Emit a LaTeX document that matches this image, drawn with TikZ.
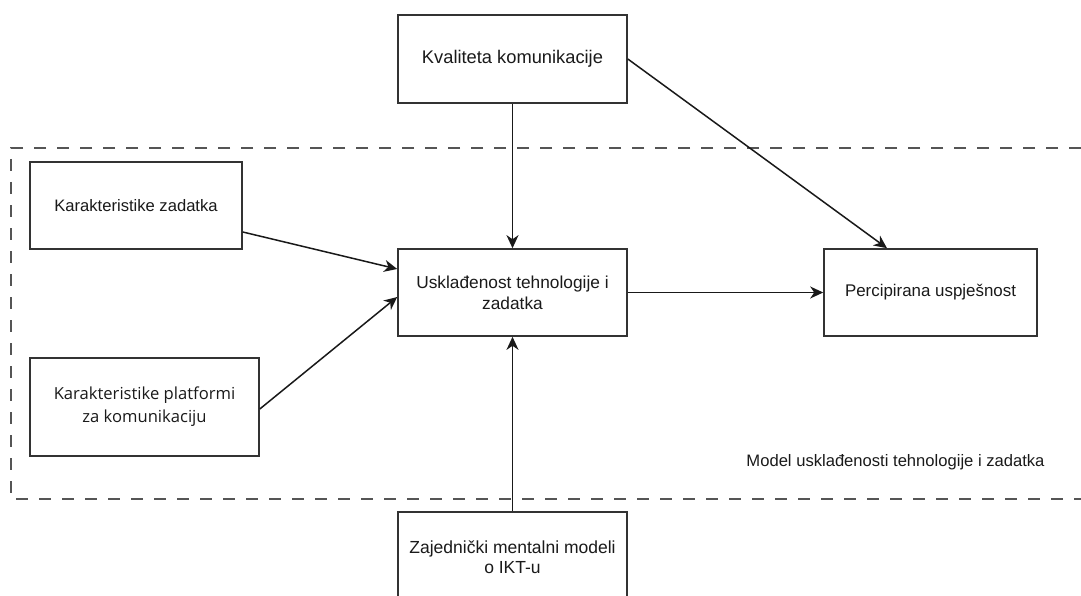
\documentclass[tikz,border=0pt]{standalone}
\usepackage{fontspec}
\setmainfont{Liberation Sans}
\newfontfamily\platfont{Open Sans}
\usetikzlibrary{arrows.meta}
\definecolor{boxline}{HTML}{333333}
\definecolor{txt}{HTML}{1A1A1A}
\definecolor{dashc}{HTML}{555555}
\begin{document}
\begin{tikzpicture}[x=1pt,y=-1pt,
  box/.style={draw=boxline,line width=1.6pt,fill=white,inner sep=0pt,align=center,
    text=txt,font=\fontsize{17.3}{21}\selectfont},
  conn/.style={draw=black!90,line width=1.5pt,-{Stealth[length=13pt,width=12pt,inset=4pt]}},
  frame/.style={draw=dashc,line width=1.8pt,dash pattern=on 12pt off 11pt}
]
\useasboundingbox (0,0) rectangle (1081,596);
\clip (0,0) rectangle (1081,596);
\draw[frame] (1081,148) -- (11,148) -- (11,499) -- (1081,499);
\node[box,minimum width=229pt,minimum height=88pt,font=\fontsize{18.3}{21}\selectfont] (kv) at (512.5,59) {Kvaliteta komunikacije};
\node[box,minimum width=212pt,minimum height=87pt,font=\fontsize{16.6}{21}\selectfont] (kz) at (136,205.5) {Karakteristike zadatka};
\node[box,minimum width=229pt,minimum height=87pt] (us) at (512.5,292.5) {Usklađenost tehnologije i\\zadatka};
\node[box,minimum width=213pt,minimum height=87pt,font=\fontsize{16.9}{21}\selectfont] (pe) at (930.5,292.5) {Percipirana uspješnost};
\node[box,minimum width=229pt,minimum height=98pt,font=\platfont\fontsize{16.6}{23}\selectfont] (pl) at (144.5,407) {Karakteristike platformi\\za komunikaciju};
\node[box,minimum width=229pt,minimum height=90pt,font=\fontsize{17.5}{20.5}\selectfont] (za) at (512.5,557) {Zajednički mentalni modeli\\o IKT-u};
\node[text=txt,font=\fontsize{16.6}{21}\selectfont,inner sep=0pt] (lbl) at (895.5,462) {Model usklađenosti tehnologije i zadatka};
\draw[conn] (kv.south) -- (us.north);
\draw[conn] (kv.east) -- ([xshift=-43.5pt]pe.north);
\draw[conn] ([yshift=-26.5pt]kz.east) -- ([yshift=23.5pt]us.west);
\draw[conn] ([yshift=-2pt]pl.east) -- ([yshift=-4.5pt]us.west);
\draw[conn] (us.east) -- (pe.west);
\draw[conn] (za.north) -- (us.south);
\end{tikzpicture}
\end{document}
